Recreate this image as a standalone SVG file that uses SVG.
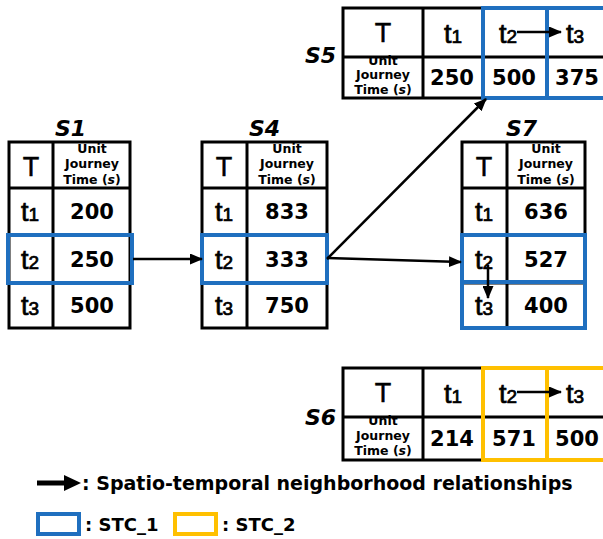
<svg xmlns="http://www.w3.org/2000/svg" width="603" height="539" viewBox="0 0 603 539">
<defs>
<style>
.grid{fill:none;stroke:#000;stroke-width:3}
.blue{fill:none;stroke:#1F6FBF;stroke-width:4}
.yel{fill:none;stroke:#FFC000;stroke-width:4}
.lbl{font-family:"DejaVu Sans",sans-serif;font-weight:bold;font-style:italic;font-size:22px;fill:#000}
.T{font-family:"Liberation Sans",Arial,sans-serif;font-size:27px;fill:#000;text-anchor:middle;stroke:#000;stroke-width:0.5}
.tt{font-family:"Liberation Sans",Arial,sans-serif;font-size:27px;fill:#000;text-anchor:middle;stroke:#000;stroke-width:0.7}
.sub{font-size:19px}
.v{font-family:"DejaVu Sans",sans-serif;font-weight:bold;font-size:21px;fill:#000;text-anchor:middle}
.h{font-family:"DejaVu Sans",sans-serif;font-weight:bold;font-size:12.5px;fill:#000;text-anchor:middle}
.leg{font-family:"DejaVu Sans",sans-serif;font-weight:bold;font-size:19px;fill:#000}
.leg2{font-family:"DejaVu Sans",sans-serif;font-weight:bold;font-size:18px;fill:#000}
.con{stroke:#000;stroke-width:2.5;fill:none;marker-end:url(#ah)}
</style>
<marker id="ah" markerUnits="userSpaceOnUse" markerWidth="13" markerHeight="11" refX="12" refY="5.5" orient="auto">
<path d="M0,0 L13,5.5 L0,11 z" fill="#000"/>
</marker>
</defs>

<g id="S1">
<text class="lbl" x="55" y="136">S1</text>
<rect class="grid" x="9" y="142" width="121" height="186"/>
<line class="grid" x1="53" y1="142" x2="53" y2="328"/>
<line class="grid" x1="9" y1="188" x2="130" y2="188"/>
<line class="grid" x1="9" y1="235" x2="130" y2="235"/>
<line class="grid" x1="9" y1="283" x2="130" y2="283"/>
<text class="T" x="31" y="176">T</text>
<text class="h" x="92" y="153">Unit</text>
<text class="h" x="92" y="168">Journey</text>
<text class="h" x="92" y="184">Time (<tspan font-style="italic">s</tspan>)</text>
<text class="tt" x="30" y="221">t<tspan class="sub">1</tspan></text>
<text class="tt" x="30" y="269">t<tspan class="sub">2</tspan></text>
<text class="tt" x="30" y="315">t<tspan class="sub">3</tspan></text>
<text class="v" x="92" y="219">200</text>
<text class="v" x="92" y="267">250</text>
<text class="v" x="92" y="313">500</text>
<rect class="blue" x="8" y="235" width="124" height="48"/>
</g>

<g id="S4">
<text class="lbl" x="249" y="136">S4</text>
<rect class="grid" x="202" y="142" width="125" height="186"/>
<line class="grid" x1="247" y1="142" x2="247" y2="328"/>
<line class="grid" x1="202" y1="188" x2="327" y2="188"/>
<line class="grid" x1="202" y1="235" x2="327" y2="235"/>
<line class="grid" x1="202" y1="283" x2="327" y2="283"/>
<text class="T" x="224" y="176">T</text>
<text class="h" x="287" y="153">Unit</text>
<text class="h" x="287" y="168">Journey</text>
<text class="h" x="287" y="184">Time (<tspan font-style="italic">s</tspan>)</text>
<text class="tt" x="224" y="221">t<tspan class="sub">1</tspan></text>
<text class="tt" x="224" y="269">t<tspan class="sub">2</tspan></text>
<text class="tt" x="224" y="315">t<tspan class="sub">3</tspan></text>
<text class="v" x="287" y="219">833</text>
<text class="v" x="287" y="267">333</text>
<text class="v" x="287" y="313">750</text>
<rect class="blue" x="202" y="235" width="125" height="48"/>
</g>

<g id="S7">
<text class="lbl" x="506" y="136">S7</text>
<rect class="grid" x="462" y="142" width="123" height="186"/>
<line class="grid" x1="507" y1="142" x2="507" y2="328"/>
<line class="grid" x1="462" y1="188" x2="585" y2="188"/>
<line class="grid" x1="462" y1="235" x2="585" y2="235"/>
<line class="grid" x1="462" y1="283" x2="585" y2="283"/>
<text class="T" x="484" y="176">T</text>
<text class="h" x="546" y="153">Unit</text>
<text class="h" x="546" y="168">Journey</text>
<text class="h" x="546" y="184">Time (<tspan font-style="italic">s</tspan>)</text>
<text class="tt" x="484" y="221">t<tspan class="sub">1</tspan></text>
<text class="tt" x="484" y="269">t<tspan class="sub">2</tspan></text>
<text class="tt" x="484" y="315">t<tspan class="sub">3</tspan></text>
<text class="v" x="546" y="219">636</text>
<text class="v" x="546" y="267">527</text>
<text class="v" x="546" y="313">400</text>
<rect class="blue" x="462" y="235" width="123" height="47"/>
<rect class="blue" x="462" y="282" width="123" height="46"/>
</g>

<g id="S5">
<text class="lbl" x="305" y="63">S5</text>
<rect class="grid" x="343" y="8" width="270" height="90"/>
<line class="grid" x1="343" y1="57" x2="613" y2="57"/>
<line class="grid" x1="423" y1="8" x2="423" y2="98"/>
<line class="grid" x1="483" y1="8" x2="483" y2="98"/>
<line class="grid" x1="547" y1="8" x2="547" y2="98"/>
<text class="T" x="383" y="42">T</text>
<text class="tt" x="453" y="43">t<tspan class="sub">1</tspan></text>
<text class="tt" x="508" y="43">t<tspan class="sub">2</tspan></text>
<text class="tt" x="575" y="43">t<tspan class="sub">3</tspan></text>
<text class="h" x="383" y="65">Unit</text>
<text class="h" x="383" y="79">Journey</text>
<text class="h" x="383" y="94">Time (<tspan font-style="italic">s</tspan>)</text>
<text class="v" x="452" y="85">250</text>
<text class="v" x="514" y="85">500</text>
<text class="v" x="577" y="85">375</text>
<rect class="blue" x="483" y="8" width="64" height="90"/>
<rect class="blue" x="547" y="8" width="66" height="90"/>
</g>

<g id="S6">
<text class="lbl" x="305" y="425">S6</text>
<rect class="grid" x="343" y="368" width="270" height="92"/>
<line class="grid" x1="343" y1="417" x2="613" y2="417"/>
<line class="grid" x1="423" y1="368" x2="423" y2="460"/>
<line class="grid" x1="483" y1="368" x2="483" y2="460"/>
<line class="grid" x1="547" y1="368" x2="547" y2="460"/>
<text class="T" x="383" y="402">T</text>
<text class="tt" x="453" y="403">t<tspan class="sub">1</tspan></text>
<text class="tt" x="508" y="403">t<tspan class="sub">2</tspan></text>
<text class="tt" x="575" y="403">t<tspan class="sub">3</tspan></text>
<text class="h" x="383" y="425">Unit</text>
<text class="h" x="383" y="440">Journey</text>
<text class="h" x="383" y="455">Time (<tspan font-style="italic">s</tspan>)</text>
<text class="v" x="452" y="446">214</text>
<text class="v" x="514" y="446">571</text>
<text class="v" x="577" y="446">500</text>
<rect class="yel" x="483" y="368" width="64" height="92"/>
<rect class="yel" x="547" y="368" width="66" height="92"/>
</g>

<g id="connectors">
<line class="con" x1="133" y1="259" x2="202" y2="259"/>
<line class="con" x1="327" y1="259" x2="486" y2="99"/>
<line class="con" x1="327" y1="258" x2="461" y2="262"/>
<line class="con" x1="517" y1="32" x2="561" y2="32"/>
<line class="con" x1="488" y1="265" x2="488" y2="298"/>
<line class="con" x1="517" y1="392" x2="561" y2="392"/>
</g>

<g id="legend">
<line x1="37" y1="483" x2="68" y2="483" stroke="#000" stroke-width="5"/>
<path d="M64,475 L81,483 L64,491 z" fill="#000"/>
<text class="leg" x="82" y="490">: Spatio-temporal neighborhood relationships</text>
<rect class="blue" x="38" y="514" width="41" height="20" stroke-width="5"/>
<text class="leg2" x="85" y="531">: STC_1</text>
<rect class="yel" x="175" y="514" width="41" height="20" stroke-width="5"/>
<text class="leg2" x="222" y="531">: STC_2</text>
</g>
</svg>
